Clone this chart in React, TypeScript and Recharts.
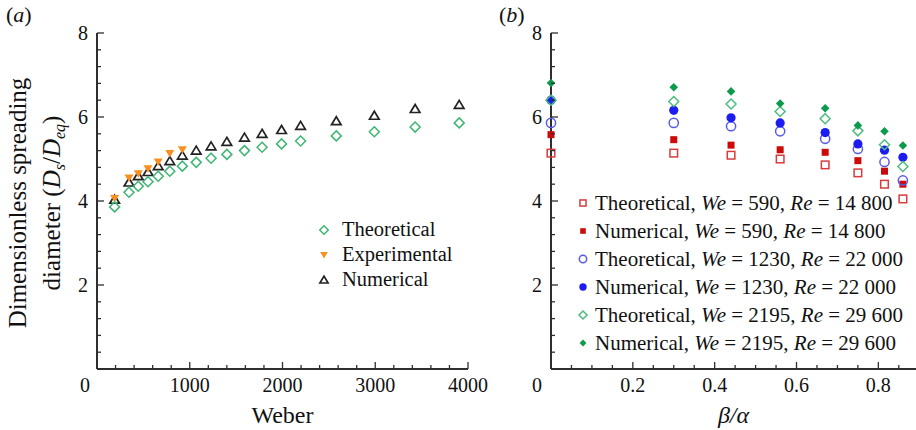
import React from 'react';
import { ScatterChart, Scatter, XAxis, YAxis, Legend, Label } from 'recharts';

const FONT = '"Liberation Serif", "Times New Roman", serif';
const AXIS = '#2e2e2e';
const INK = '#111';

// (a) spreading diameter against Weber number
const weber = [190, 345, 445, 550, 660, 785, 920, 1070, 1230, 1400, 1590, 1780, 1990, 2195, 2580, 2990, 3430, 3905];
const theoreticalA = [3.86, 4.21, 4.35, 4.46, 4.59, 4.71, 4.83, 4.92, 5.02, 5.11, 5.2, 5.28, 5.36, 5.43, 5.55, 5.65, 5.76, 5.86];
const numericalA = [4.03, 4.44, 4.59, 4.69, 4.83, 4.95, 5.08, 5.2, 5.3, 5.41, 5.51, 5.6, 5.69, 5.79, 5.9, 6.03, 6.19, 6.29];
// experiments only cover the first seven Weber numbers
const experimentalA = [4.06, 4.55, 4.65, 4.77, 4.93, 5.13, 5.22];

// (b) spreading diameter against beta/alpha
const betaAlpha = [0, 0.3, 0.44, 0.56, 0.67, 0.75, 0.815, 0.86];
const theo590 = [5.14, 5.14, 5.09, 5.0, 4.86, 4.67, 4.4, 4.05];
const num590 = [5.58, 5.46, 5.33, 5.22, 5.16, 4.96, 4.71, 4.4];
const theo1230 = [5.86, 5.86, 5.78, 5.66, 5.48, 5.24, 4.93, 4.49];
const num1230 = [6.4, 6.16, 5.98, 5.86, 5.63, 5.36, 5.21, 5.04];
const theo2195 = [6.4, 6.37, 6.31, 6.13, 5.96, 5.67, 5.34, 4.82];
const num2195 = [6.81, 6.71, 6.61, 6.32, 6.21, 5.8, 5.66, 5.32];

const diameterTicks = [0, 2, 4, 6, 8];
const weberTicks = [0, 1000, 2000, 3000, 4000];
const ratioTicks = [0, 0.2, 0.4, 0.6, 0.8];

const minorTicks = (step: number, max: number) => {
  const out: number[] = [];
  for (let i = 0; i * step <= max + 1e-9; i++) out.push(Math.round(i * step * 1000) / 1000);
  return out;
};
const isMajor = (v: number, majors: number[]) => majors.some((m) => Math.abs(m - v) < 1e-9);

type Kind = 'diamondOpen' | 'diamondFilled' | 'triUp' | 'triDown' | 'squareOpen' | 'squareFilled' | 'circleOpen' | 'circleFilled';

const Marker = ({ kind, cx, cy, color, s = 1 }: { kind: Kind; cx: number; cy: number; color: string; s?: number }) => {
  switch (kind) {
    case 'diamondOpen': {
      const h = 5 * s;
      return <polygon points={`${cx},${cy - h} ${cx + h},${cy} ${cx},${cy + h} ${cx - h},${cy}`} fill="none" stroke={color} strokeWidth={1.5} />;
    }
    case 'diamondFilled': {
      const h = 4.3 * s;
      return <polygon points={`${cx},${cy - h} ${cx + h},${cy} ${cx},${cy + h} ${cx - h},${cy}`} fill={color} />;
    }
    case 'triUp':
      return <polygon points={`${cx},${cy - 4.5 * s} ${cx + 4.8 * s},${cy + 3.5 * s} ${cx - 4.8 * s},${cy + 3.5 * s}`} fill="none" stroke={color} strokeWidth={1.7} />;
    case 'triDown':
      return <polygon points={`${cx - 4.5 * s},${cy - 3.5 * s} ${cx + 4.5 * s},${cy - 3.5 * s} ${cx},${cy + 4 * s}`} fill={color} />;
    case 'squareOpen': {
      const h = 3.8 * s;
      return <rect x={cx - h} y={cy - h} width={2 * h} height={2 * h} fill="none" stroke={color} strokeWidth={1.5} />;
    }
    case 'squareFilled': {
      const h = 3.5 * s;
      return <rect x={cx - h} y={cy - h} width={2 * h} height={2 * h} fill={color} />;
    }
    case 'circleOpen':
      return <circle cx={cx} cy={cy} r={4.6 * s} fill="none" stroke={color} strokeWidth={1.5} />;
    case 'circleFilled':
      return <circle cx={cx} cy={cy} r={4.6 * s} fill={color} />;
  }
  return null;
};

const seriesA = [
  { key: 'theo', name: 'Theoretical', kind: 'diamondOpen' as Kind, color: '#3fb573', xs: weber, ys: theoreticalA },
  { key: 'exp', name: 'Experimental', kind: 'triDown' as Kind, color: '#f7901e', xs: weber.slice(0, experimentalA.length), ys: experimentalA },
  { key: 'num', name: 'Numerical', kind: 'triUp' as Kind, color: '#222', xs: weber, ys: numericalA },
];
// drawing order: numerical first, then experimental and theoretical on top
const drawOrderA = ['num', 'exp', 'theo'];

const seriesB = [
  { key: 't590', name: 'Theoretical', we: '590', re: '14 800', kind: 'squareOpen' as Kind, color: '#d83c3c', ys: theo590 },
  { key: 'n590', name: 'Numerical', we: '590', re: '14 800', kind: 'squareFilled' as Kind, color: '#cc0a0a', ys: num590 },
  { key: 't1230', name: 'Theoretical', we: '1230', re: '22 000', kind: 'circleOpen' as Kind, color: '#5a5ae8', ys: theo1230 },
  { key: 'n1230', name: 'Numerical', we: '1230', re: '22 000', kind: 'circleFilled' as Kind, color: '#1c1cf2', ys: num1230 },
  { key: 't2195', name: 'Theoretical', we: '2195', re: '29 600', kind: 'diamondOpen' as Kind, color: '#4dbd7e', ys: theo2195 },
  { key: 'n2195', name: 'Numerical', we: '2195', re: '29 600', kind: 'diamondFilled' as Kind, color: '#0c9a4c', ys: num2195 },
];

const XTick = (p: any) => {
  const { x, y, payload, majors, zeroShift, fmt } = p;
  const major = isMajor(payload.value, majors);
  return (
    <g>
      <line x1={x} y1={y} x2={x} y2={y - (major ? 7 : 4)} stroke={AXIS} strokeWidth={1.3} />
      {major && (
        <text x={x + (payload.value === 0 ? zeroShift : 0)} y={y + 23} textAnchor="middle" fontFamily={FONT} fontSize={20} fill={INK}>
          {fmt(payload.value)}
        </text>
      )}
    </g>
  );
};

const YTick = (p: any) => {
  const { x, y, payload, majors } = p;
  const major = isMajor(payload.value, majors);
  return (
    <g>
      <line x1={x} y1={y} x2={x + (major ? 7 : 4)} y2={y} stroke={AXIS} strokeWidth={1.3} />
      {major && payload.value !== 0 && (
        <text x={x - 9} y={y + 7} textAnchor="end" fontFamily={FONT} fontSize={20} fill={INK}>
          {payload.value}
        </text>
      )}
    </g>
  );
};

const YTitle = (props: any) => {
  const vb = props.viewBox;
  const cy = vb.y + vb.height / 2 + 2;
  const x1 = vb.x + 26;
  const x2 = vb.x + 60;
  return (
    <g fontFamily={FONT} fontSize={25} fill={INK}>
      <text x={x1} y={cy} textAnchor="middle" transform={`rotate(-90 ${x1} ${cy})`}>
        Dimensionless spreading
      </text>
      <text x={x2} y={cy} textAnchor="middle" transform={`rotate(-90 ${x2} ${cy})`}>
        diameter (<tspan fontStyle="italic">D</tspan>
        <tspan fontSize={16} fontStyle="italic" dy={5}>s</tspan>
        <tspan dy={-5}>/</tspan>
        <tspan fontStyle="italic">D</tspan>
        <tspan fontSize={16} fontStyle="italic" dy={5}>eq</tspan>
        <tspan dy={-5}>)</tspan>
      </text>
    </g>
  );
};

const LegendA = () => (
  <div style={{ fontFamily: FONT, fontSize: 20.5, color: INK, whiteSpace: 'nowrap' }}>
    {seriesA.map((s) => (
      <div key={s.key} style={{ display: 'flex', alignItems: 'center', height: 25 }}>
        <svg width={16} height={16} style={{ marginRight: 10 }}>
          <Marker kind={s.kind} cx={8} cy={8} color={s.color} s={0.85} />
        </svg>
        <span>{s.name}</span>
      </div>
    ))}
  </div>
);

const LegendB = () => (
  <div style={{ fontFamily: FONT, fontSize: 21, color: INK, whiteSpace: 'nowrap' }}>
    {seriesB.map((s) => (
      <div key={s.key} style={{ display: 'flex', alignItems: 'center', height: 28 }}>
        <svg width={16} height={16} style={{ marginRight: 4 }}>
          <Marker kind={s.kind} cx={8} cy={8} color={s.color} s={0.8} />
        </svg>
        <span>
          {s.name}, <i>We</i> = {s.we}, <i>Re</i> = {s.re}
        </span>
      </div>
    ))}
  </div>
);

const axisLine = { stroke: AXIS, strokeWidth: 2 };
const titleStyle = { fontFamily: FONT, fontSize: 24, fill: INK };

export default function App() {
  const weberMinor = minorTicks(200, 4000);
  const diaMinor = minorTicks(0.4, 8);
  const ratioMinor = minorTicks(0.05, 0.89);

  return (
    <div style={{ position: 'absolute', left: 0, top: 0, width: 916, height: 430, background: '#fff', overflow: 'hidden' }}>
      <div style={{ position: 'absolute', left: 6, top: 2, fontFamily: FONT, fontSize: 22, lineHeight: '26px', color: INK }}>
        (<i>a</i>)
      </div>
      <div style={{ position: 'absolute', left: 499, top: 2, fontFamily: FONT, fontSize: 22, lineHeight: '26px', color: INK }}>
        (<i>b</i>)
      </div>

      <div style={{ position: 'absolute', left: 0, top: 0 }}>
        <ScatterChart width={500} height={430} margin={{ top: 33, right: 32, bottom: 0, left: 0 }}>
          <XAxis
            type="number"
            dataKey="x"
            domain={[0, 4000]}
            ticks={weberMinor}
            interval={0}
            height={61}
            tickSize={0}
            tickMargin={0}
            tickLine={false}
            axisLine={axisLine}
            tick={(p: any) => <XTick {...p} majors={weberTicks} zeroShift={-12} fmt={(v: number) => String(v)} />}
          >
            <Label value="Weber" position="insideBottom" offset={7} style={titleStyle} />
          </XAxis>
          <XAxis xAxisId="top" orientation="top" type="number" domain={[0, 4000]} height={0} tick={false} tickLine={false} axisLine={axisLine} />
          <YAxis
            type="number"
            dataKey="y"
            domain={[0, 8]}
            ticks={diaMinor}
            interval={0}
            width={97}
            tickSize={0}
            tickMargin={0}
            tickLine={false}
            axisLine={axisLine}
            tick={(p: any) => <YTick {...p} majors={diameterTicks} />}
          >
            <Label content={YTitle} />
          </YAxis>
          <YAxis yAxisId="right" orientation="right" type="number" domain={[0, 8]} width={0} tick={false} tickLine={false} axisLine={axisLine} />
          {drawOrderA.map((k) => {
            const s = seriesA.find((d) => d.key === k)!;
            const data = s.xs.map((x, i) => ({ x, y: s.ys[i] }));
            return (
              <Scatter
                key={s.key}
                name={s.name}
                data={data}
                isAnimationActive={false}
                shape={(p: any) => <Marker kind={s.kind} cx={p.cx} cy={p.cy} color={s.color} />}
              />
            );
          })}
          <Legend
            layout="vertical"
            align="center"
            verticalAlign="middle"
            wrapperStyle={{ left: 316, top: 217, width: 150, height: 'auto' }}
            content={() => <LegendA />}
          />
        </ScatterChart>
      </div>

      <div style={{ position: 'absolute', left: 460, top: 0 }}>
        <ScatterChart width={456} height={430} margin={{ top: 33, right: 0, bottom: 0, left: 0 }}>
          <XAxis
            type="number"
            dataKey="x"
            domain={[0, 0.892]}
            ticks={ratioMinor}
            interval={0}
            height={61}
            tickSize={0}
            tickMargin={0}
            tickLine={false}
            axisLine={axisLine}
            tick={(p: any) => <XTick {...p} majors={ratioTicks} zeroShift={-14} fmt={(v: number) => (v === 0 ? '0' : v.toFixed(1))} />}
          >
            <Label value="β/α" position="insideBottom" offset={7} style={{ ...titleStyle, fontStyle: 'italic' }} />
          </XAxis>
          <XAxis xAxisId="top" orientation="top" type="number" domain={[0, 0.892]} height={0} tick={false} tickLine={false} axisLine={axisLine} />
          <YAxis
            type="number"
            dataKey="y"
            domain={[0, 8]}
            ticks={diaMinor}
            interval={0}
            width={91}
            tickSize={0}
            tickMargin={0}
            tickLine={false}
            axisLine={axisLine}
            tick={(p: any) => <YTick {...p} majors={diameterTicks} />}
          />
          {seriesB.map((s) => (
            <Scatter
              key={s.key}
              name={s.key}
              data={betaAlpha.map((x, i) => ({ x, y: s.ys[i] }))}
              isAnimationActive={false}
              shape={(p: any) => <Marker kind={s.kind} cx={p.cx} cy={p.cy} color={s.color} />}
            />
          ))}
          <Legend
            layout="vertical"
            align="center"
            verticalAlign="middle"
            wrapperStyle={{ left: 115, top: 189, width: 341, height: 'auto' }}
            content={() => <LegendB />}
          />
        </ScatterChart>
      </div>
    </div>
  );
}
